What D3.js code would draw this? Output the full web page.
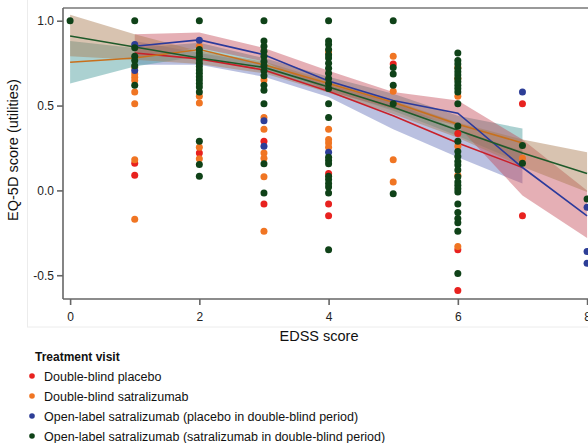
<!DOCTYPE html>
<html>
<head>
<meta charset="utf-8">
<script src="https://cdn.jsdelivr.net/npm/d3@7"></script>
<style>
  html, body { margin: 0; padding: 0; background: #fff; }
  svg { display: block; font-family: "Liberation Sans", Arial, sans-serif; }
</style>
</head>
<body>
<svg id="chart" width="588" height="443"></svg>
<script>
// ---------- data ----------
const xTicks = [0, 2, 4, 6, 8];
const yTicks = [-0.5, 0.0, 0.5, 1.0];
const legendTitle = "Treatment visit";
const seriesNames = [
  "Double-blind placebo",
  "Double-blind satralizumab",
  "Open-label satralizumab (placebo in double-blind period)",
  "Open-label satralizumab (satralizumab in double-blind period)"
];

// observed points [EDSS, utility]
const dbPlaceboPts = [
  [1, 0.16], [1, 0.09],
  [2, 0.22],
  [3, 0.29], [3, -0.08],
  [4, 0.10], [4, -0.08], [4, -0.15],
  [5, 0.745],
  [6, 0.335], [6, -0.35], [6, -0.59],
  [7, 0.51], [7, -0.15]
];
const dbSatPts = [
  [1, 0.725], [1, 0.686], [1, 0.667], [1, 0.647], [1, 0.58], [1, 0.51], [1, 0.18], [1, -0.17],
  [2, 0.85], [2, 0.555], [2, 0.515], [2, 0.255], [2, 0.186],
  [3, 0.65], [3, 0.43], [3, 0.36], [3, 0.22], [3, 0.19], [3, 0.08], [3, -0.24],
  [4, 0.815], [4, 0.36], [4, 0.30], [4, 0.28], [4, 0.255],
  [5, 0.79], [5, 0.584], [5, 0.18], [5, 0.05],
  [6, 0.725], [6, 0.66], [6, 0.555], [6, 0.26], [6, 0.09], [6, -0.33],
  [7, 0.19]
];
const olPlaceboPts = [
  [1, 0.86], [1, 0.706],
  [2, 0.885],
  [3, 0.41], [3, 0.26],
  [4, 0.225],
  [7, 0.58],
  [8, -0.10], [8, -0.36], [8, -0.43]
];
const olSatPts = [
  [0, 1.0],
  [1, 1.0], [1, 0.84], [1, 0.79], [1, 0.765], [1, 0.735], [1, 0.62],
  [2, 1.0], [2, 0.83], [2, 0.81], [2, 0.79], [2, 0.77], [2, 0.75], [2, 0.73], [2, 0.71],
  [2, 0.69], [2, 0.67], [2, 0.65], [2, 0.63], [2, 0.61], [2, 0.58], [2, 0.29], [2, 0.153], [2, 0.084],
  [3, 1.0], [3, 0.88], [3, 0.85], [3, 0.82], [3, 0.79], [3, 0.76], [3, 0.735], [3, 0.705],
  [3, 0.676], [3, 0.62], [3, 0.59], [3, 0.51], [3, 0.157], [3, -0.016],
  [4, 1.0], [4, 0.88], [4, 0.86], [4, 0.83], [4, 0.80], [4, 0.78], [4, 0.75], [4, 0.72],
  [4, 0.69], [4, 0.66], [4, 0.63], [4, 0.60], [4, 0.51], [4, 0.43], [4, 0.196], [4, 0.176],
  [4, 0.157], [4, 0.084], [4, 0.064], [4, 0.04], [4, 0.02], [4, -0.016], [4, -0.35],
  [5, 1.0], [5, 0.725], [5, 0.686], [5, 0.62], [5, 0.51], [5, -0.02],
  [6, 0.81], [6, 0.765], [6, 0.745], [6, 0.72], [6, 0.70], [6, 0.68], [6, 0.66], [6, 0.64],
  [6, 0.62], [6, 0.60], [6, 0.58], [6, 0.51], [6, 0.38], [6, 0.29], [6, 0.23], [6, 0.20],
  [6, 0.17], [6, 0.15], [6, 0.12], [6, 0.08], [6, 0.05], [6, 0.03], [6, 0.01], [6, -0.01],
  [6, -0.08], [6, -0.13], [6, -0.165], [6, -0.19], [6, -0.24], [6, -0.49],
  [7, 0.265], [7, 0.16],
  [8, -0.05]
];

// smoothed fits with confidence bands (read at integer EDSS)
const dbPlaceboFitX = [1, 2, 3, 4, 5, 6, 7];
const dbPlaceboFit  = [0.81, 0.775, 0.71, 0.585, 0.44, 0.28, 0.135];
const dbPlaceboLo   = [0.74, 0.74, 0.67, 0.55, 0.36, 0.196, 0.04];
const dbPlaceboHi   = [0.88, 0.81, 0.75, 0.62, 0.52, 0.36, 0.23];

const dbSatFitX = [0, 1, 2, 3, 4, 5, 6, 7];
const dbSatFit  = [0.755, 0.78, 0.83, 0.74, 0.63, 0.52, 0.39, 0.28];
const dbSatLo   = [0.63, 0.73, 0.79, 0.70, 0.59, 0.47, 0.32, 0.16];
const dbSatHi   = [0.88, 0.84, 0.87, 0.78, 0.67, 0.57, 0.44, 0.365];

const olPlaceboFitX = [1, 2, 3, 4, 5, 6, 7, 8];
const olPlaceboFit  = [0.85, 0.887, 0.80, 0.645, 0.53, 0.455, 0.135, -0.15];
const olPlaceboLo   = [0.78, 0.84, 0.76, 0.585, 0.48, 0.38, -0.03, -0.28];
const olPlaceboHi   = [0.92, 0.93, 0.84, 0.705, 0.58, 0.53, 0.30, 0.0];

const olSatFitX = [0, 1, 2, 3, 4, 5, 6, 7, 8];
const olSatFit  = [0.91, 0.845, 0.78, 0.725, 0.61, 0.49, 0.355, 0.22, 0.10];
const olSatLo   = [0.79, 0.77, 0.745, 0.69, 0.575, 0.45, 0.31, 0.14, -0.01];
const olSatHi   = [1.035, 0.92, 0.82, 0.76, 0.645, 0.53, 0.40, 0.30, 0.225];

// ---------- styling ----------
const pointColors = ["#e8221f", "#f07523", "#2d3e97", "#0f4218"];
const lineColors  = ["#c9202a", "#c8701c", "#2b3a9c", "#1e5a2a"];
const bandColors  = ["#5a6ab4", "#4f9e9e", "#c2404f", "#a87a50"];
const bandOpacity = [0.42, 0.48, 0.42, 0.45];

const series = [
  { pts: dbPlaceboPts, fx: dbPlaceboFitX, f: dbPlaceboFit, lo: dbPlaceboLo, hi: dbPlaceboHi },
  { pts: dbSatPts, fx: dbSatFitX, f: dbSatFit, lo: dbSatLo, hi: dbSatHi },
  { pts: olPlaceboPts, fx: olPlaceboFitX, f: olPlaceboFit, lo: olPlaceboLo, hi: olPlaceboHi },
  { pts: olSatPts, fx: olSatFitX, f: olSatFit, lo: olSatLo, hi: olSatHi }
];

// ---------- layout ----------
const svg = d3.select("#chart");
const plot = { left: 63, right: 600, top: 8, bottom: 299 };

const x = d3.scaleLinear().domain([-0.11, 8.2]).range([plot.left, plot.right]);
const y = d3.scaleLinear().domain([-0.64, 1.075]).range([plot.bottom, plot.top]);

// faint outer panel
svg.append("rect")
  .attr("x", 27.5).attr("y", -2).attr("width", 600).attr("height", 329)
  .attr("fill", "none").attr("stroke", "#ececec").attr("stroke-width", 1);

svg.append("defs").append("clipPath").attr("id", "clip")
  .append("rect").attr("x", plot.left).attr("y", plot.top)
  .attr("width", plot.right - plot.left).attr("height", plot.bottom - plot.top);

const g = svg.append("g").attr("clip-path", "url(#clip)");

// bands
series.forEach((s, i) => {
  const area = d3.area()
    .x((d, k) => x(s.fx[k]))
    .y0((d, k) => y(s.lo[k]))
    .y1((d, k) => y(s.hi[k]));
  g.append("path")
    .datum(s.fx)
    .attr("d", area)
    .attr("fill", bandColors[i])
    .attr("fill-opacity", bandOpacity[i]);
});

// lines
series.forEach((s, i) => {
  const line = d3.line()
    .x((d, k) => x(s.fx[k]))
    .y((d, k) => y(s.f[k]));
  g.append("path")
    .datum(s.fx)
    .attr("d", line)
    .attr("fill", "none")
    .attr("stroke", lineColors[i])
    .attr("stroke-width", 1.6);
});

// points
series.forEach((s, i) => {
  g.append("g").selectAll("circle")
    .data(s.pts)
    .join("circle")
    .attr("cx", d => x(d[0]))
    .attr("cy", d => y(d[1]))
    .attr("r", 3.5)
    .attr("fill", pointColors[i]);
});

// frame top
svg.append("line")
  .attr("x1", plot.left).attr("x2", 588)
  .attr("y1", plot.top).attr("y2", plot.top)
  .attr("stroke", "#777").attr("stroke-width", 1.5);

// axes
const yAxis = d3.axisLeft(y).tickValues(yTicks).tickSize(6).tickPadding(3)
  .tickFormat(v => v.toFixed(1));
const xAxis = d3.axisBottom(x).tickValues(xTicks).tickSize(6).tickPadding(7)
  .tickFormat(v => String(v));

const ya = svg.append("g").attr("transform", `translate(${plot.left},0)`).call(yAxis);
const xa = svg.append("g").attr("transform", `translate(0,${plot.bottom})`).call(xAxis);

[ya, xa].forEach(a => {
  a.select(".domain").attr("stroke", "#666").attr("stroke-width", 1.6);
  a.selectAll(".tick line").attr("stroke", "#666").attr("stroke-width", 1.6);
  a.selectAll(".tick text").attr("fill", "#222").style("font-size", "12px")
    .style("font-family", "'Liberation Sans', Arial, sans-serif");
});
ya.select(".domain").attr("d", `M0,${plot.top}V${plot.bottom}`);
xa.select(".domain").attr("d", `M${plot.left},0H600`);

// axis titles
svg.append("text")
  .attr("transform", "translate(18,150) rotate(-90)")
  .attr("text-anchor", "middle")
  .attr("fill", "#111")
  .style("font-size", "14.5px")
  .text("EQ-5D score (utilities)");

svg.append("text")
  .attr("x", 319).attr("y", 341)
  .attr("text-anchor", "middle")
  .attr("fill", "#111")
  .style("font-size", "14.5px")
  .text("EDSS score");

// legend
svg.append("text")
  .attr("x", 35).attr("y", 361)
  .attr("fill", "#111")
  .style("font-size", "12px").style("font-weight", "bold")
  .text(legendTitle);

const leg = svg.append("g");
seriesNames.forEach((name, i) => {
  const cy = 376 + i * 20;
  leg.append("circle").attr("cx", 32).attr("cy", cy).attr("r", 2.8).attr("fill", pointColors[i]);
  leg.append("text").attr("x", 44).attr("y", cy + 4.5)
    .attr("fill", "#111").style("font-size", "12.5px").text(name);
});
</script>
</body>
</html>
